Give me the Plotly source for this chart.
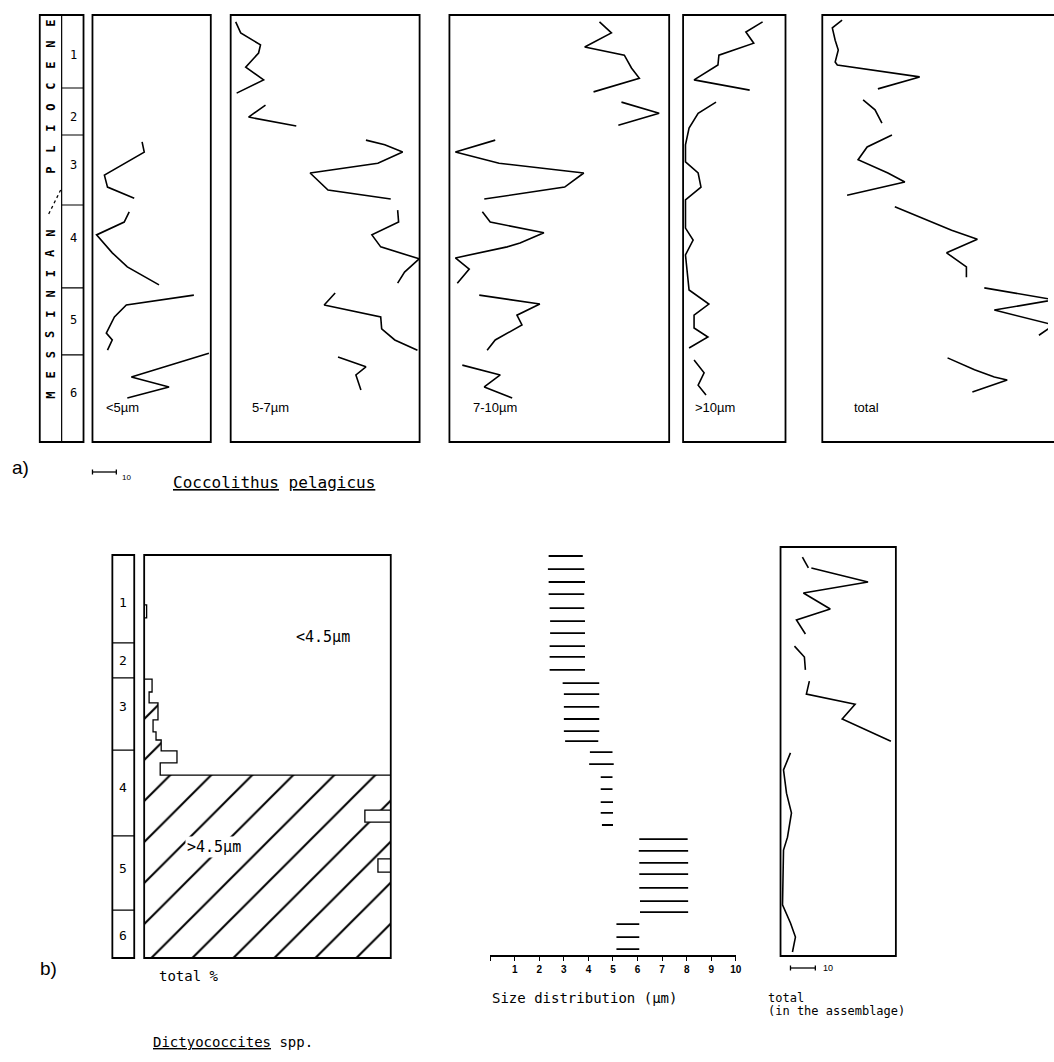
import plotly.graph_objects as go

W, H = 1054, 1062

# ================= DATA =================
# Panel a : Coccolithus pelagicus  (depth: 0 = top .. 100 = base, abundance in %)
zone_names = ["1", "2", "3", "4", "5", "6"]
zone_a_bounds = [17.1, 28.1, 44.5, 63.9, 79.6]
zone_a_label_depth = [9.4, 23.9, 35.1, 52.2, 71.4, 88.5]

lt5_depth = [[29.7, 32.1, 37.5, 40.3, 42.9], [46.1, 48.5, 51.5, 55.7, 59.0, 63.2],
             [65.6, 67.9, 70.7, 74.5, 76.1, 78.5], [79.2, 84.8, 87.1, 89.7]]
lt5_pct = [[20.8, 21.7, 5.0, 6.3, 17.5], [15.4, 13.3, 1.7, 8.3, 14.6, 27.9],
           [42.5, 14.2, 9.2, 5.8, 8.3, 6.3], [48.8, 16.3, 32.1, 14.6]]

s57_depth = [[1.6, 4.2, 7.0, 8.9, 12.2, 15.2, 18.3], [21.1, 23.9, 26.0],
             [29.3, 30.4, 32.1, 34.7, 37.0, 41.0, 43.1], [45.7, 48.5, 51.5, 54.3, 57.1, 60.2, 62.8],
             [65.1, 67.9, 70.7, 73.5, 76.1, 78.5], [80.1, 82.4, 84.3, 87.8]]
s57_pct = [[2.1, 4.2, 12.5, 11.7, 6.3, 13.8, 2.5], [14.6, 7.5, 27.5],
           [56.7, 64.6, 72.1, 61.7, 33.3, 40.8, 67.1], [70.0, 70.4, 59.2, 62.9, 79.0, 72.9, 70.0],
           [43.8, 39.2, 62.9, 63.3, 68.8, 78.3], [45.0, 56.7, 52.5, 54.6]]

s710_depth = [[1.6, 4.2, 7.5, 9.4, 12.4, 14.8, 18.0], [20.4, 23.0, 25.8],
              [29.3, 32.1, 34.7, 37.0, 40.3, 41.7, 43.1], [46.1, 48.5, 51.0, 53.4, 54.3, 56.9, 59.5, 62.8],
              [65.6, 67.7, 70.3, 72.6, 76.1, 78.5], [82.0, 84.3, 87.1, 89.7]]
s710_pct = [[62.9, 67.9, 56.7, 73.3, 76.3, 79.6, 60.4], [72.1, 87.9, 70.8],
            [19.2, 2.5, 20.8, 56.3, 48.3, 31.3, 14.6], [13.8, 17.1, 39.6, 29.6, 24.2, 2.5, 8.3, 3.3],
            [12.5, 37.9, 28.3, 30.4, 19.2, 15.8], [5.4, 21.3, 14.6, 26.3]]

gt10_depth = [[1.6, 4.0, 6.6, 9.4, 11.7, 15.2, 17.6],
              [20.4, 23.0, 26.5, 30.4, 34.4, 37.0, 40.3, 43.3, 49.9, 52.7, 56.2, 64.4,
               67.7, 70.3, 73.3, 75.4, 78.0],
              [80.8, 83.8, 86.7, 89.0]]
gt10_pct = [[33.3, 26.3, 29.6, 15.0, 14.6, 4.6, 27.9],
            [13.8, 6.3, 2.5, 1.0, 1.0, 6.3, 7.5, 1.0, 1.0, 4.2, 1.0, 2.5,
             10.8, 4.6, 4.6, 10.4, 2.5],
            [4.6, 8.8, 6.3, 9.6]]

tot_a_depth = [[1.2, 3.0, 5.9, 8.2, 11.0, 11.7, 14.5, 17.3], [19.9, 22.2, 25.3],
               [28.1, 30.9, 33.9, 37.0, 39.1, 42.2], [44.9, 50.4, 52.5, 55.7, 59.0, 61.4],
               [63.9, 65.8, 66.7, 69.1, 72.6, 75.0], [80.3, 83.1, 84.8, 85.5, 88.3]]
tot_a_pct = [[8.3, 4.2, 5.4, 6.7, 5.4, 6.3, 40.8, 23.3], [17.1, 22.1, 25.0],
             [29.2, 18.8, 15.0, 27.5, 34.6, 10.4], [30.4, 54.2, 65.0, 52.1, 60.4, 60.4],
             [67.9, 88.8, 97.1, 72.1, 97.1, 90.8], [52.5, 63.8, 72.1, 77.5, 62.9]]

panel_a_labels = ["<5µm", "5-7µm", "7-10µm", ">10µm", "total"]

# Panel b : Dictyococcites spp.
zone_b_bounds = [21.8, 30.5, 48.4, 69.7, 88.1]
zone_b_label_depth = [11.9, 26.3, 37.5, 57.6, 77.7, 94.3]

gt45_top = [0, 12.4, 15.6, 30.8, 34.0, 36.7, 40.9, 43.9, 45.9, 48.6, 51.6, 54.6, 63.3, 66.3, 75.4, 78.7]
gt45_pct = [0, 1.0, 0, 3.2, 2.0, 5.6, 3.6, 4.8, 6.9, 13.3, 6.5, 100, 89.5, 100, 94.8, 100]
gt45_base = 100

size_depth = [0.25, 3.5, 6.7, 9.7, 13.2, 16.4, 19.4, 22.6, 25.3, 28.5,
              31.8, 34.5, 37.7, 40.7, 43.7, 46.2, 48.9, 51.9,
              55.1, 58.1, 61.3, 64.0, 67.0,
              70.5, 73.4, 76.4, 79.2, 82.6, 85.9, 88.6, 91.6, 94.8, 97.8]
size_min = [2.38, 2.35, 2.38, 2.38, 2.42, 2.44, 2.44, 2.42, 2.42, 2.42,
            2.95, 3.0, 3.0, 3.0, 3.0, 3.05, 4.06, 4.03,
            4.5, 4.5, 4.5, 4.5, 4.55,
            6.07, 6.05, 6.07, 6.07, 6.07, 6.1, 6.1, 5.14, 5.14, 5.14]
size_max = [3.77, 3.83, 3.86, 3.83, 3.83, 3.86, 3.86, 3.86, 3.86, 3.86,
            4.44, 4.44, 4.44, 4.44, 4.44, 4.4, 4.98, 5.03,
            4.98, 4.98, 5.0, 5.0, 5.0,
            8.04, 8.06, 8.06, 8.06, 8.06, 8.06, 8.06, 6.07, 6.07, 6.07]
size_ticks = list(range(0, 11))

tot_b_depth = [[0.5, 3.2], [3.2, 6.7, 9.4, 13.4, 16.1, 19.6], [22.6, 25.3, 28.5],
               [31.3, 34.5, 37.0, 40.7, 46.2],
               [49.1, 53.3, 59.1, 64.0, 70.0, 73.2, 86.8, 91.3, 94.8, 98.5]]
tot_b_pct = [[8.8, 11.2], [12.4, 35.2, 9.2, 20.0, 6.4, 10.0], [5.6, 9.6, 10.0],
             [11.6, 10.4, 30.0, 24.8, 44.4],
             [4.0, 1.2, 2.4, 4.4, 2.8, 1.2, 0.8, 4.0, 6.0, 4.8]]

# ================= LAYOUT HELPERS =================
MONO = "DejaVu Sans Mono"
SANS = "Liberation Sans"


def dom_x(a, b):
    return [a / W, b / W]


def dom_y(top, bottom):
    return [1 - bottom / H, 1 - top / H]


def segs(pcts, depths):
    xs, ys = [], []
    for p, d in zip(pcts, depths):
        xs += list(p) + [None]
        ys += list(d) + [None]
    return xs, ys


# axis id: (x pixels, y pixels, x range, y range)
axes = {
    1: ((40, 84), (15, 442), [0, 1], [100, 0]),
    2: ((93, 212), (15, 442), [0, 49.6], [100, 0]),
    3: ((232, 422), (15, 442), [0, 79.2], [100, 0]),
    4: ((452, 673), (15, 442), [0, 92.1], [100, 0]),
    5: ((687, 790), (15, 442), [0, 42.9], [100, 0]),
    6: ((827, 1054), (15, 442), [0, 94.6], [100, 0]),
    7: ((113, 135), (555, 958), [0, 1], [100, 0]),
    8: ((145, 393), (555, 958), [0, 100], [100, 0]),
    9: ((493, 740), (555, 955), [0, 10], [99.26, 0]),
    10: ((785, 901), (547, 956), [0, 46.4], [99.5, -2.0]),
}


def xn(k):
    return "x" if k == 1 else f"x{k}"


def yn(k):
    return "y" if k == 1 else f"y{k}"


fig = go.Figure()
layout = dict(width=W, height=H, margin=dict(l=0, r=0, t=0, b=0),
              paper_bgcolor="white", plot_bgcolor="rgba(0,0,0,0)", showlegend=False)
for k, (xp, ypx, xr, yr) in axes.items():
    layout["xaxis" if k == 1 else f"xaxis{k}"] = dict(
        domain=dom_x(*xp), range=xr, visible=False, anchor=yn(k), fixedrange=True)
    layout["yaxis" if k == 1 else f"yaxis{k}"] = dict(
        domain=dom_y(*ypx), range=yr, visible=False, anchor=xn(k), fixedrange=True)
    fig.add_trace(go.Scatter(x=[xr[0]], y=[yr[1]], mode="markers", marker=dict(opacity=0),
                             xaxis=xn(k), yaxis=yn(k), hoverinfo="skip"))

# size distribution axis visible
layout["xaxis9"].update(visible=True, showline=True, linecolor="black", linewidth=1.6,
                        ticks="outside", ticklen=4, tickwidth=1.3, tickcolor="black",
                        tickvals=size_ticks, ticktext=[""] + [f"<b>{v}</b>" for v in size_ticks[1:]],
                        tickfont=dict(family=SANS, size=10, color="black"),
                        showgrid=False, zeroline=False)
fig.update_layout(**layout)

LINE = dict(color="black", width=1.6)

# ---- panel a curves ----
for k, (pc, dp) in zip([2, 3, 4, 5, 6], [(lt5_pct, lt5_depth), (s57_pct, s57_depth),
                                         (s710_pct, s710_depth), (gt10_pct, gt10_depth),
                                         (tot_a_pct, tot_a_depth)]):
    xs, ys = segs(pc, dp)
    fig.add_trace(go.Scatter(x=xs, y=ys, mode="lines", line=LINE,
                             xaxis=xn(k), yaxis=yn(k), hoverinfo="skip"))

# ---- panel b: stepped >4.5 µm fraction (hatched) ----
bx, by = [0], [0]
bottoms = gt45_top[1:] + [gt45_base]
for v, t, b in zip(gt45_pct, gt45_top, bottoms):
    bx += [v, v]
    by += [t, b]
bx += [0, 0]
by += [gt45_base, 0]
fig.add_trace(go.Scatter(x=bx, y=by, mode="lines", fill="toself", fillcolor="white",
                         fillpattern=dict(shape="/", size=29, solidity=0.07,
                                          fgcolor="black", bgcolor="white", fillmode="replace"),
                         line=dict(color="black", width=1.3),
                         xaxis=xn(8), yaxis=yn(8), hoverinfo="skip"))

# ---- size distribution ranges ----
sx, sy = [], []
for d, a, b in zip(size_depth, size_min, size_max):
    sx += [a, b, None]
    sy += [d, d, None]
fig.add_trace(go.Scatter(x=sx, y=sy, mode="lines", line=dict(color="black", width=1.8),
                         xaxis=xn(9), yaxis=yn(9), hoverinfo="skip"))

# ---- total in assemblage ----
xs, ys = segs(tot_b_pct, tot_b_depth)
fig.add_trace(go.Scatter(x=xs, y=ys, mode="lines", line=LINE,
                         xaxis=xn(10), yaxis=yn(10), hoverinfo="skip"))

# ================= SHAPES =================
shapes = []
BOX = dict(color="black", width=1.8)
for k in [1, 2, 3, 4, 5, 7, 8, 10]:
    shapes.append(dict(type="rect", xref=f"{xn(k)} domain", yref=f"{yn(k)} domain",
                       x0=0, x1=1, y0=0, y1=1, line=BOX, layer="above"))
shapes.append(dict(type="rect", xref=f"{xn(6)} domain", yref=f"{yn(6)} domain",
                   x0=0, x1=1.3, y0=0, y1=1, line=BOX, layer="above"))
# strat column a: divider + zones
shapes.append(dict(type="line", xref="x", yref="y", x0=0.5, x1=0.5, y0=0, y1=100,
                   line=dict(color="black", width=1.2)))
for zb in zone_a_bounds:
    shapes.append(dict(type="line", xref="x", yref="y", x0=0.5, x1=1, y0=zb, y1=zb,
                       line=dict(color="black", width=1.2)))
for zb in zone_b_bounds:
    shapes.append(dict(type="line", xref="x7", yref="y7", x0=0, x1=1, y0=zb, y1=zb,
                       line=dict(color="black", width=1.2)))

# Messinian / Pliocene boundary mark
shapes.append(dict(type="line", xref="paper", yref="paper", x0=49 / W, x1=61 / W,
                   y0=1 - 214 / H, y1=1 - 190 / H, line=dict(color="black", width=1.3, dash="dot")))


def scale_bar(x0, y, length):
    out = [dict(type="line", xref="paper", yref="paper", x0=x0 / W, x1=(x0 + length) / W,
                y0=1 - y / H, y1=1 - y / H, line=dict(color="black", width=1.3))]
    for xe in (x0, x0 + length):
        out.append(dict(type="line", xref="paper", yref="paper", x0=xe / W, x1=xe / W,
                        y0=1 - (y - 2.5) / H, y1=1 - (y + 2.5) / H,
                        line=dict(color="black", width=1.3)))
    return out


shapes += scale_bar(93, 472, 10 * 2.4)
shapes += scale_bar(795, 968, 10 * 2.5)
fig.update_layout(shapes=shapes)

# ================= ANNOTATIONS =================
anns = []


def ann(x, y, text, size=12, family=SANS, xanchor="left", angle=0, bg=None):
    d = dict(x=x / W, y=1 - y / H, xref="paper", yref="paper", text=text, showarrow=False,
             xanchor=xanchor, yanchor="middle", textangle=angle,
             font=dict(family=family, size=size, color="black"))
    if bg:
        d["bgcolor"] = bg
        d["borderpad"] = 1
    anns.append(d)


for i, ch in enumerate("MESSINIAN"):
    ann(51, 395 - i * 20.25, f"<b>{ch}</b>", size=12, family=MONO, xanchor="center", angle=-90)
for i, ch in enumerate("PLIOCENE"):
    ann(51, 170 - i * 21.0, f"<b>{ch}</b>", size=12, family=MONO, xanchor="center", angle=-90)

for name, d in zip(zone_names, zone_a_label_depth):
    anns.append(dict(x=0.78, y=d, xref="x", yref="y", text=name, showarrow=False,
                     font=dict(family=MONO, size=12, color="black")))
for name, d in zip(zone_names, zone_b_label_depth):
    anns.append(dict(x=0.5, y=d, xref="x7", yref="y7", text=name, showarrow=False,
                     font=dict(family=MONO, size=13, color="black")))

for k, lab in zip([2, 3, 4, 5, 6], panel_a_labels):
    anns.append(dict(x=0.1 if k != 6 else 0.13, y=0.08, xref=f"{xn(k)} domain", yref=f"{yn(k)} domain",
                     text=lab, showarrow=False, xanchor="left", yanchor="middle",
                     font=dict(family=SANS, size=13, color="black")))

ann(10, 467, "a)", size=19)
ann(121, 477, "10", size=8)
ann(172, 482, "<u>Coccolithus</u> <u>pelagicus</u>", size=16, family=MONO)

ann(38, 968, "b)", size=19)
ann(158, 976, "total %", size=14, family=MONO)
ann(296, 637, "<4.5µm", size=15, family=MONO)
ann(186, 847, ">4.5µm", size=15, family=MONO, bg="white")
ann(493, 998, "Size distribution (µm)", size=14, family=MONO)
ann(826, 968, "10", size=9)
ann(770, 998, "total", size=12, family=MONO)
ann(770, 1011, "(in the assemblage)", size=12, family=MONO)
ann(152, 1042, "<u>Dictyococcites</u> spp.", size=14, family=MONO)

fig.update_layout(annotations=anns)

fig.write_html("out.html", config={"displayModeBar": False},
               post_script="document.body.style.margin='0';document.body.style.overflow='hidden';")
